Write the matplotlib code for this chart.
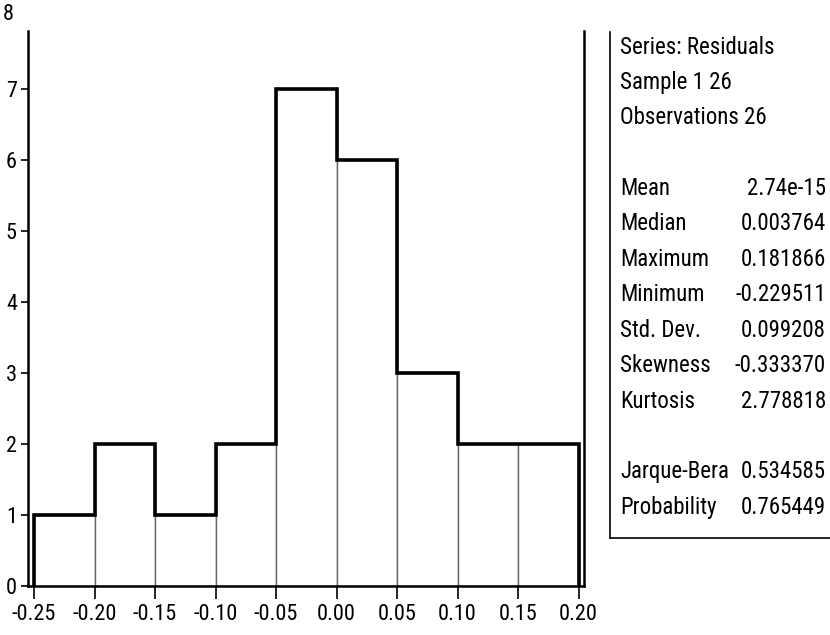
import matplotlib
matplotlib.use("Agg")
import matplotlib.pyplot as plt
from matplotlib.lines import Line2D
from matplotlib import font_manager as fm
import numpy as np

available = set(f.name for f in fm.fontManager.ttflist)
candidates = ['Arial Narrow', 'Liberation Sans Narrow', 'Nimbus Sans Narrow', 'Helvetica Narrow',
              'Roboto Condensed', 'Archivo Narrow', 'Pragati Narrow', 'PT Sans Narrow',
              'Open Sans Condensed', 'IBM Plex Sans Condensed', 'Fira Sans Condensed']
chosen = [c for c in candidates if c in available]
family = chosen[:1] + ['Liberation Sans', 'DejaVu Sans']
plt.rcParams['font.family'] = family

bin_edges = [-0.25, -0.20, -0.15, -0.10, -0.05, 0.00, 0.05, 0.10, 0.15, 0.20]
counts = [1, 2, 1, 2, 7, 6, 3, 2, 2]
xtick_vals = [-0.25, -0.20, -0.15, -0.10, -0.05, 0.00, 0.05, 0.10, 0.15, 0.20]
xtick_labels = ["-0.25", "-0.20", "-0.15", "-0.10", "-0.05", "0.00", "0.05", "0.10", "0.15", "0.20"]
ytick_vals = [0, 1, 2, 3, 4, 5, 6, 7, 8]

header_lines = ["Series: Residuals", "Sample 1 26", "Observations 26"]
stat_names = ["Mean", "Median", "Maximum", "Minimum", "Std. Dev.", "Skewness", "Kurtosis"]
stat_values = ["2.74e-15", "0.003764", "0.181866", "-0.229511", "0.099208", "-0.333370", "2.778818"]
test_names = ["Jarque-Bera", "Probability"]
test_values = ["0.534585", "0.765449"]

W, H = 830, 635
fig = plt.figure(figsize=(W / 100, H / 100), dpi=100)
ax = fig.add_axes([28 / W, 1 - 586 / H, (584 - 28) / W, (586 - 31) / H])

widths = np.diff(bin_edges)
ax.bar(bin_edges[:-1], counts, width=widths, align='edge', color='white',
       edgecolor='#666666', linewidth=1.0, zorder=2)
xs = [bin_edges[0]]
ys = [0]
for i, c in enumerate(counts):
    xs += [bin_edges[i], bin_edges[i + 1]]
    ys += [c, c]
xs.append(bin_edges[-1])
ys.append(0)
ax.plot(xs, ys, color='black', linewidth=2.6, zorder=3, solid_joinstyle='miter')

ax.set_xlim(-0.255, 0.2045)
ax.set_ylim(0, (586 - 31) / 71)
ax.set_xticks(xtick_vals)
ax.set_xticklabels(xtick_labels)
ax.set_yticks(ytick_vals[:-1])
fs = 16
ax.tick_params(axis='both', labelsize=fs, direction='out', color='black')
ax.tick_params(axis='x', length=9, width=1.2, pad=4)
ax.tick_params(axis='y', length=5, width=1.2, pad=3)
ax.text(-0.025, 8.05, "8", transform=ax.get_yaxis_transform(), ha='right', va='center',
        fontsize=fs, clip_on=False)
ax.spines['top'].set_visible(False)
for s in ['left', 'right', 'bottom']:
    ax.spines[s].set_linewidth(1.8)
    ax.spines[s].set_color('black')


def fx(px):
    return px / W


def fy(py):
    return 1 - py / H


box_left = 610
box_bottom = 538
fig.add_artist(Line2D([fx(box_left), fx(box_left)], [fy(32), fy(box_bottom)],
                      color='black', linewidth=1.2))
fig.add_artist(Line2D([fx(box_left), fx(W)], [fy(box_bottom), fy(box_bottom)],
                      color='black', linewidth=1.2))

sfs = 16.5
lx, rx = 620, 826
p0, dy = 47, 35.4
rows_header = [0, 1, 2]
rows_stats = [4, 5, 6, 7, 8, 9, 10]
rows_tests = [12, 13]
for t, r in zip(header_lines, rows_header):
    fig.text(fx(lx), fy(p0 + r * dy), t, ha='left', va='center', fontsize=sfs)
for n, v, r in zip(stat_names, stat_values, rows_stats):
    y = p0 + r * dy
    fig.text(fx(lx), fy(y), n, ha='left', va='center', fontsize=sfs)
    fig.text(fx(rx), fy(y), v, ha='right', va='center', fontsize=sfs)
for n, v, r in zip(test_names, test_values, rows_tests):
    y = p0 + r * dy
    fig.text(fx(lx), fy(y), n, ha='left', va='center', fontsize=sfs)
    fig.text(fx(rx), fy(y), v, ha='right', va='center', fontsize=sfs)

fig.savefig("out.png", dpi=100)
